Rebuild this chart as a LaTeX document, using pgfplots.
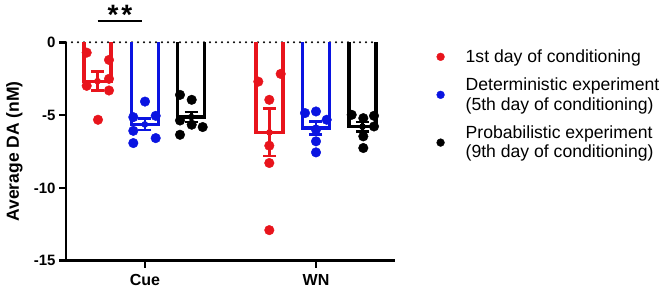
\documentclass[border=0pt]{standalone}
\usepackage{fontspec}
\setmainfont{Liberation Sans}
\usepackage{pgfplots}
\pgfplotsset{compat=1.18}
\definecolor{cred}{RGB}{232,20,28}
\definecolor{cblue}{RGB}{10,20,225}
\begin{document}
\begin{tikzpicture}
\useasboundingbox (0,0) rectangle (664pt,290pt);
\begin{axis}[
  at={(66pt,29.3pt)}, anchor=south west,
  scale only axis, width=329pt, height=218.4pt,
  xmin=66, xmax=395, ymin=-15, ymax=0,
  clip=false,
  axis x line*=bottom, axis y line*=left,
  axis line style={line width=2.5pt,-},
  every tick/.style={line width=2.5pt, black},
  tick align=outside,
  ytick={-15,-10,-5,0}, yticklabels={-15,-10,-5,0},
  xtick={145,316}, xticklabels={Cue,WN},
  major tick length=7pt,
  yticklabel style={font=\bfseries\fontsize{15}{18}\selectfont},
  xticklabel style={font=\bfseries\fontsize{16}{19}\selectfont, yshift=-3pt},
  ylabel={Average DA (nM)},
  ylabel style={font=\bfseries\fontsize{17.5}{21}\selectfont, at={(axis description cs:-0.1565,0.5)}, anchor=center},
  legend cell align=left,
  legend image code/.code={\fill (0pt,0pt) circle (3.9pt);},
  legend style={at={(axis description cs:1.1255,0.967)}, anchor=north west,
    draw=none, fill=none, inner sep=0pt, row sep=14pt,
    font=\fontsize{17.6}{19.5}\selectfont,
    nodes={align=left, inner sep=0pt},
    /tikz/every odd column/.append style={column sep=21pt}},
]
% zero reference line
\addplot[forget plot, black, line width=2.2pt, line cap=round, dash pattern=on 0pt off 6pt] coordinates {(66,0) (377,0)};
% bars (open outlines)
\addplot[forget plot, cred, line width=3.2pt, line join=miter] coordinates {(84,0) (84,-2.67) (111,-2.67) (111,0)};
\addplot[forget plot, cblue, line width=3.2pt, line join=miter] coordinates {(131.3,0) (131.3,-5.64) (158.3,-5.64) (158.3,0)};
\addplot[forget plot, black, line width=3.2pt, line join=miter] coordinates {(177.8,0) (177.8,-5.13) (204.8,-5.13) (204.8,0)};
\addplot[forget plot, cred, line width=3.2pt, line join=miter] coordinates {(256,0) (256,-6.19) (283,-6.19) (283,0)};
\addplot[forget plot, cblue, line width=3.2pt, line join=miter] coordinates {(302.3,0) (302.3,-5.88) (329.3,-5.88) (329.3,0)};
\addplot[forget plot, black, line width=3.2pt, line join=miter] coordinates {(349,0) (349,-5.79) (376,-5.79) (376,0)};
% error bars (SEM)
\pgfplotsset{semstyle/.style={forget plot, only marks, mark=none, line width=2.5pt,
  error bars/.cd, y dir=both, y explicit,
  error bar style={line width=2.5pt},
  error mark options={rotate=90, mark size=6.6pt, line width=2.5pt}}}
\addplot[cred, semstyle] coordinates {(97.5,-2.67) +- (0,0.65)};
\addplot[cblue, semstyle] coordinates {(144.8,-5.64) +- (0,0.39)};
\addplot[black, semstyle] coordinates {(191.3,-5.13) +- (0,0.33)};
\addplot[cred, semstyle] coordinates {(269.5,-6.19) +- (0,1.63)};
\addplot[cblue, semstyle] coordinates {(315.8,-5.88) +- (0,0.45)};
\addplot[black, semstyle] coordinates {(362.5,-5.79) +- (0,0.33)};
% individual points
\addplot[forget plot, only marks, mark=*, mark size=4.8pt, cred] coordinates {(86.7,-0.71) (109,-1.21) (86.7,-2.99) (109,-2.51) (109,-3.31) (98,-5.32)};
\addplot[forget plot, only marks, mark=*, mark size=4.8pt, cblue] coordinates {(145,-4.07) (133.3,-5.14) (155.7,-5.05) (133.3,-6.08) (155.7,-6.58) (133.3,-6.92)};
\addplot[forget plot, only marks, mark=*, mark size=4.8pt, black] coordinates {(180,-3.61) (191.7,-3.95) (180,-5.37) (191.7,-5.66) (202.7,-5.82) (180,-6.35)};
\addplot[only marks, mark=*, mark size=4.8pt, cred] coordinates {(258.3,-2.7) (280.7,-2.17) (269.3,-3.95) (269.3,-7.1) (269.3,-8.29) (269.3,-12.9)};
\addlegendentry{1st day of conditioning}
\addplot[only marks, mark=*, mark size=4.8pt, cblue] coordinates {(305,-4.86) (316,-4.75) (326.7,-5.32) (316,-6.0) (316,-6.8) (316,-7.56)};
\addlegendentry{Deterministic experiment\\(5th day of conditioning)}
\addplot[only marks, mark=*, mark size=4.8pt, black] coordinates {(351.7,-4.98) (363.3,-5.21) (374,-5.05) (374,-5.78) (363.3,-6.46) (363.3,-7.26)};
\addlegendentry{Probabilistic experiment\\(9th day of conditioning)}
% significance
\draw[line width=2.5pt] (axis cs:97.5,1.48) -- (axis cs:142,1.48);
\node[anchor=base, inner sep=0pt, font=\bfseries\fontsize{28}{30}\selectfont] at (axis cs:120,1.23) {*\kern3pt*};
\end{axis}
\end{tikzpicture}
\end{document}
